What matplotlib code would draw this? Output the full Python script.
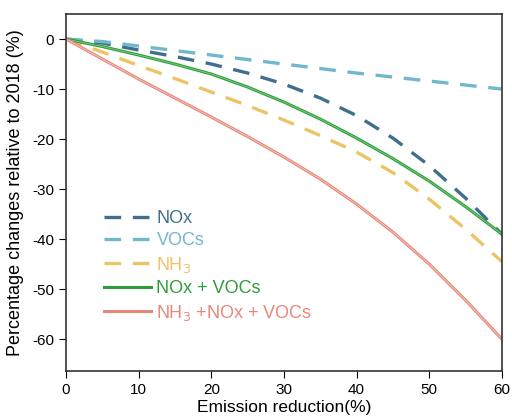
import numpy as np
import matplotlib.pyplot as plt

plt.rcParams['font.family'] = ['Liberation Sans', 'DejaVu Sans']
plt.rcParams['axes.unicode_minus'] = False

x = [0, 5, 10, 15, 20, 25, 30, 35, 40, 45, 50, 55, 60]
nox = [0, -0.8, -2.2, -3.5, -5.0, -6.8, -9.0, -11.8, -15.3, -19.8, -25.3, -31.8, -39.0]
vocs = [0, -0.5, -1.4, -2.3, -3.2, -4.1, -5.0, -5.9, -6.8, -7.6, -8.4, -9.2, -10.0]
nh3 = [0, -2.6, -5.3, -7.9, -10.6, -13.3, -16.2, -19.3, -22.6, -26.7, -32.0, -38.0, -44.5]
nox_vocs = [0, -1.5, -3.2, -5.0, -7.0, -9.6, -12.6, -16.0, -19.8, -23.9, -28.4, -33.5, -39.0]
all3 = [0, -4.0, -8.0, -11.8, -15.6, -19.5, -23.6, -28.0, -33.0, -38.6, -45.0, -52.2, -60.0]

c_nox = "#3f6f8c"
c_voc = "#72b8cc"
c_nh3 = "#ecc468"
c_green = "#2e9e3a"
c_red = "#e8877a"

fig = plt.figure(figsize=(5.12, 4.18), dpi=100)
ax = fig.add_axes([0.129, 0.1124, 0.851, 0.854])

ax.plot(x, nox, color=c_nox, lw=2.4, dashes=(5, 3.5), label="NOx")
ax.plot(x, vocs, color=c_voc, lw=2.4, dashes=(5, 3.5), label="VOCs")
ax.plot(x, nh3, color=c_nh3, lw=2.4, dashes=(5, 3.5), label="NH$_3$")
ax.plot(x, nox_vocs, color=c_green, lw=2.2, label="NOx + VOCs")
ax.plot(x, nox_vocs, color="#7fcf84", lw=0.6)
ax.plot(x, all3, color=c_red, lw=2.2, label="NH$_3$ +NOx + VOCs")
ax.plot(x, all3, color="#f6c6bd", lw=0.6)

ax.set_xlim(0, 60)
ax.set_ylim(-66.4, 5)
ax.set_xticks([0, 10, 20, 30, 40, 50, 60])
ax.set_yticks([0, -10, -20, -30, -40, -50, -60])
ax.tick_params(direction="out", length=5, labelsize=11)
for s in ax.spines.values():
    s.set_linewidth(1.2)
    s.set_color("#333333")

ax.set_xlabel("Emission reduction(%)", fontsize=12.5, labelpad=2)
ax.set_ylabel("Percentage changes relative to 2018 (%)", fontsize=13, labelpad=6)

leg = ax.legend(loc="lower left", bbox_to_anchor=(0.05, 0.09), frameon=False,
                fontsize=13, handlelength=2.6, labelspacing=0.3, handletextpad=0.3)
for t, c in zip(leg.get_texts(), [c_nox, c_voc, c_nh3, c_green, c_red]):
    t.set_color(c)

plt.savefig("out.png", dpi=100)
